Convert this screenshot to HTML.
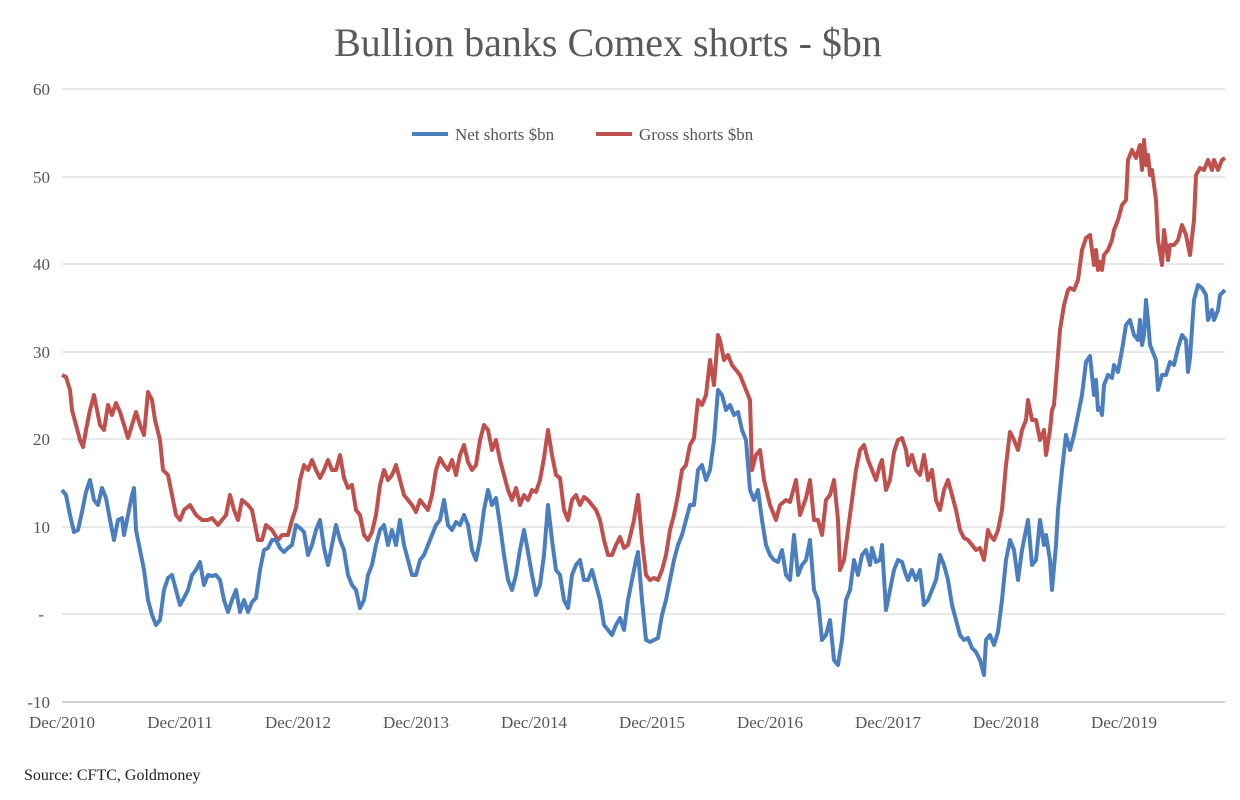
<!DOCTYPE html>
<html><head><style>
body{margin:0;background:#fff;}
svg{display:block;font-family:"Liberation Serif",serif;}
</style></head><body>
<svg width="1240" height="800" viewBox="0 0 1240 800">
<text x="608" y="56" text-anchor="middle" font-size="40" fill="#5a5a5a">Bullion banks Comex shorts - $bn</text>
<g stroke="#dcdcdc" stroke-width="1.2">
<line x1="62" y1="89" x2="1225" y2="89"/><line x1="62" y1="177" x2="1225" y2="177"/>
<line x1="62" y1="264" x2="1225" y2="264"/><line x1="62" y1="352" x2="1225" y2="352"/>
<line x1="62" y1="439" x2="1225" y2="439"/><line x1="62" y1="527" x2="1225" y2="527"/>
<line x1="62" y1="614" x2="1225" y2="614"/>
</g>
<line x1="62" y1="702" x2="1225" y2="702" stroke="#bbb" stroke-width="1.2"/>
<g font-size="17" fill="#555" text-anchor="end">
<text x="50" y="95">60</text><text x="50" y="183">50</text><text x="50" y="270">40</text>
<text x="50" y="358">30</text><text x="50" y="445">20</text><text x="50" y="533">10</text>
<text x="44" y="620">-</text><text x="50" y="708">-10</text>
</g>
<g font-size="17" fill="#555" text-anchor="middle">
<text x="62" y="728">Dec/2010</text><text x="180" y="728">Dec/2011</text><text x="298" y="728">Dec/2012</text>
<text x="416" y="728">Dec/2013</text><text x="534" y="728">Dec/2014</text><text x="652" y="728">Dec/2015</text>
<text x="770" y="728">Dec/2016</text><text x="888" y="728">Dec/2017</text><text x="1006" y="728">Dec/2018</text>
<text x="1124" y="728">Dec/2019</text>
</g>
<text x="24" y="780" font-size="16" fill="#222">Source: CFTC, Goldmoney</text>
<line x1="412" y1="134" x2="448" y2="134" stroke="#4a7ebf" stroke-width="4"/>
<text x="455" y="140" font-size="17" fill="#555">Net shorts $bn</text>
<line x1="596" y1="134" x2="632" y2="134" stroke="#c0504d" stroke-width="4"/>
<text x="639" y="140" font-size="17" fill="#555">Gross shorts $bn</text>
<polyline fill="none" stroke="#c0504d" stroke-width="4" stroke-linejoin="round" points="62,375 66,377 70,390 72,410 76,425 80,440 83,447 86,430 90,410 94,395 97,410 100,425 104,430 108,405 112,415 116,403 120,412 124,425 128,438 132,425 136,412 140,425 144,435 148,392 152,400 155,420 160,440 163,470 168,475 172,495 176,515 180,520 184,510 190,505 196,515 202,520 208,520 212,518 218,525 222,520 226,515 230,495 234,510 238,520 242,500 248,505 252,510 258,540 262,540 266,525 272,530 278,540 282,535 288,535 292,520 296,508 300,480 304,465 308,470 312,460 316,470 320,478 324,470 328,460 332,470 336,470 340,455 344,478 348,488 352,485 356,510 360,515 364,535 368,540 372,532 376,515 380,485 384,470 388,480 392,475 396,465 400,480 404,495 408,500 412,505 416,512 420,500 424,505 428,510 432,495 436,470 440,458 444,465 448,470 452,460 456,475 460,455 464,445 468,462 472,470 476,465 480,440 484,425 488,430 492,450 496,440 500,460 504,475 508,490 512,500 516,488 520,505 524,495 528,500 532,490 536,492 540,480 544,458 548,430 552,455 556,475 560,478 564,510 568,520 572,500 576,495 580,505 584,497 588,500 592,505 596,510 600,520 604,540 608,555 612,555 616,545 620,537 624,548 628,545 634,520 638,495 642,540 646,575 650,580 654,578 658,580 662,570 666,555 670,530 674,515 678,495 682,470 686,465 690,445 694,438 698,400 702,405 706,395 710,360 714,385 718,335 720,340 724,360 728,355 732,365 736,370 740,375 744,385 750,400 752,470 756,455 760,450 764,480 770,505 776,520 780,505 786,500 790,502 796,480 800,515 806,498 810,480 814,520 818,520 822,535 826,500 830,495 834,480 838,520 840,570 844,560 848,530 852,500 856,470 860,450 864,445 868,460 872,470 876,480 880,465 882,460 886,490 890,480 894,452 898,440 902,438 906,450 908,465 912,455 916,470 920,475 924,455 928,480 932,470 936,500 940,510 944,490 948,480 952,495 956,510 960,530 964,538 968,540 972,545 976,550 980,548 984,560 988,530 990,535 994,540 998,530 1002,510 1006,465 1010,432 1014,440 1018,450 1022,430 1026,420 1028,400 1032,420 1036,420 1040,440 1044,430 1046,455 1050,430 1052,410 1054,405 1056,380 1060,330 1064,305 1068,290 1070,288 1074,290 1078,280 1082,250 1086,238 1090,235 1094,265 1096,250 1098,270 1100,262 1102,270 1104,255 1108,250 1112,240 1114,230 1118,220 1122,205 1126,200 1128,160 1132,150 1136,158 1140,145 1142,170 1144,140 1146,165 1148,155 1150,175 1152,170 1156,200 1158,240 1162,265 1164,230 1168,260 1170,245 1174,245 1178,240 1182,225 1186,235 1190,255 1194,220 1196,175 1200,168 1204,170 1208,160 1212,170 1214,160 1218,170 1222,160 1225,158"/>
<polyline fill="none" stroke="#4a7ebf" stroke-width="4" stroke-linejoin="round" points="62,490 66,495 70,515 74,532 78,530 82,512 86,492 90,480 94,500 98,505 102,488 106,498 110,520 114,540 118,520 122,518 124,535 128,515 132,495 134,488 136,530 140,550 144,570 148,600 152,615 156,625 160,620 164,590 168,578 172,575 176,590 180,605 184,598 188,590 192,575 196,570 200,562 204,585 208,575 212,576 216,575 220,580 224,600 228,612 232,600 236,590 240,612 244,600 248,612 252,602 256,598 260,570 264,550 268,548 272,540 276,540 280,548 284,552 288,548 292,545 296,525 300,528 304,532 308,555 312,545 316,530 320,520 324,548 328,565 332,545 336,525 340,540 344,550 348,575 352,585 356,590 360,608 364,600 368,575 372,565 376,545 380,530 384,525 388,545 392,530 396,545 400,520 404,545 408,560 412,575 416,575 420,560 424,555 428,545 432,535 436,525 440,520 444,500 448,525 452,530 456,522 460,525 464,515 468,525 472,550 476,560 480,540 484,510 488,490 492,505 496,498 500,525 504,555 508,580 512,590 516,575 520,550 524,530 528,552 532,575 536,595 540,585 544,555 548,505 552,540 556,570 560,575 564,600 568,608 572,575 576,565 580,560 584,580 588,580 592,570 596,585 600,600 604,625 608,630 612,635 616,625 620,618 624,630 628,600 632,580 636,560 638,552 642,600 646,640 650,642 654,640 658,638 662,615 666,600 670,580 674,560 678,545 682,535 686,520 690,505 694,505 698,470 702,465 706,480 710,470 714,440 718,390 722,395 726,410 730,405 734,415 738,412 742,430 746,440 750,490 754,500 758,490 762,520 766,545 770,555 774,560 778,562 782,550 786,575 790,580 794,535 798,575 802,565 806,560 810,540 814,590 818,600 822,640 826,635 830,620 834,660 838,665 842,640 846,600 850,590 854,560 858,575 862,555 866,550 870,565 872,548 876,562 880,560 882,545 886,610 890,590 894,570 898,560 902,562 906,575 908,580 912,570 916,580 920,570 924,605 928,600 932,590 936,580 940,555 944,565 948,580 952,605 956,620 960,635 964,640 968,638 972,648 976,652 980,660 984,675 986,640 990,635 994,645 998,632 1002,600 1006,560 1010,540 1014,550 1018,580 1022,550 1026,530 1028,520 1032,565 1036,560 1040,520 1044,545 1046,535 1050,560 1052,590 1056,545 1058,510 1062,470 1066,435 1070,450 1074,435 1078,415 1082,395 1086,362 1090,356 1094,395 1096,380 1098,410 1100,408 1102,415 1104,385 1108,375 1112,378 1114,365 1118,372 1122,350 1126,325 1130,320 1134,335 1138,340 1140,320 1142,345 1144,335 1146,300 1148,320 1150,345 1152,350 1156,360 1158,390 1162,375 1166,375 1170,362 1174,365 1178,348 1182,335 1186,340 1188,372 1190,358 1194,300 1198,285 1202,288 1206,295 1208,320 1212,310 1214,320 1218,310 1220,295 1225,290"/>
</svg>
</body></html>
